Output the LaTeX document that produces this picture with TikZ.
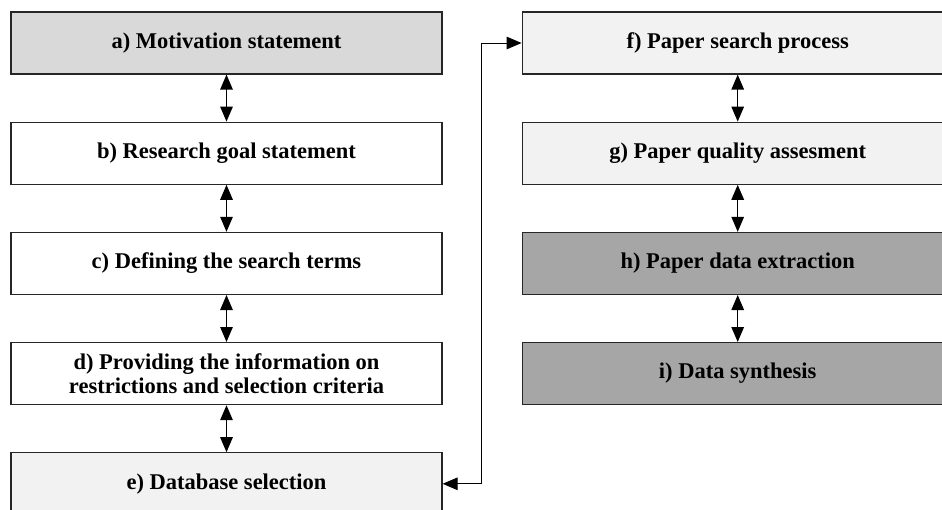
\documentclass[tikz,border=0pt]{standalone}
\usepackage{fontspec}
\setmainfont{Liberation Serif}
\usetikzlibrary{positioning,arrows.meta}

\definecolor{midgray}{HTML}{D9D9D9}
\definecolor{palegray}{HTML}{F2F2F2}
\definecolor{darkgray}{HTML}{A6A6A6}

\begin{document}
\begin{tikzpicture}[
      x=1pt, y=1pt,
      nodes={
        draw=black!85, line width=1.2pt, fill=white,
        font=\fontsize{22.5}{23.5}\selectfont\bfseries,
        minimum width=431pt, minimum height=62pt, align=center, inner sep=2pt
      },
      mid/.style={fill=midgray},
      pale/.style={fill=palegray},
      dark/.style={fill=darkgray},
      line width=1.3pt, >={Triangle[length=15pt,width=12.5pt]}
      ]

  \useasboundingbox (0,0) rectangle (942,-509);

	  \node[mid] at (226.5,-43)  (sa) {a) Motivation statement};
	  \node[below = 47pt of sa]  (sb) {b) Research goal statement};
	  \node[below = 47pt of sb]  (sc) {c) Defining the search terms};
	  \node[below = 47pt of sc]  (sd) {d) Providing the information on\\restrictions and selection criteria};
	  \node[pale, below = 47pt of sd]  (se) {e) Database selection};
	  \node[pale, right = 79pt of sa]  (sf) {f) Paper search process};
	  \node[pale, below = 47pt of sf]  (sg) {g) Paper quality assesment};
	  \node[dark, below = 47pt of sg]  (sh) {h) Paper data extraction};
	  \node[dark, below = 47pt of sh]  (si) {i) Data synthesis};

  % Connect the nodes

  \draw[<->] (sa) -- (sb);
  \draw[<->] (sb) -- (sc);
  \draw[<->] (sc) -- (sd);
  \draw[<->] (sd) -- (se);
  \draw[<->, line width=1pt] (se.east) -- ++(39,0) |- (sf.west);
  \draw[<->] (sf) -- (sg);
  \draw[<->] (sg) -- (sh);
  \draw[<->] (sh) -- (si);

\end{tikzpicture}
\end{document}
